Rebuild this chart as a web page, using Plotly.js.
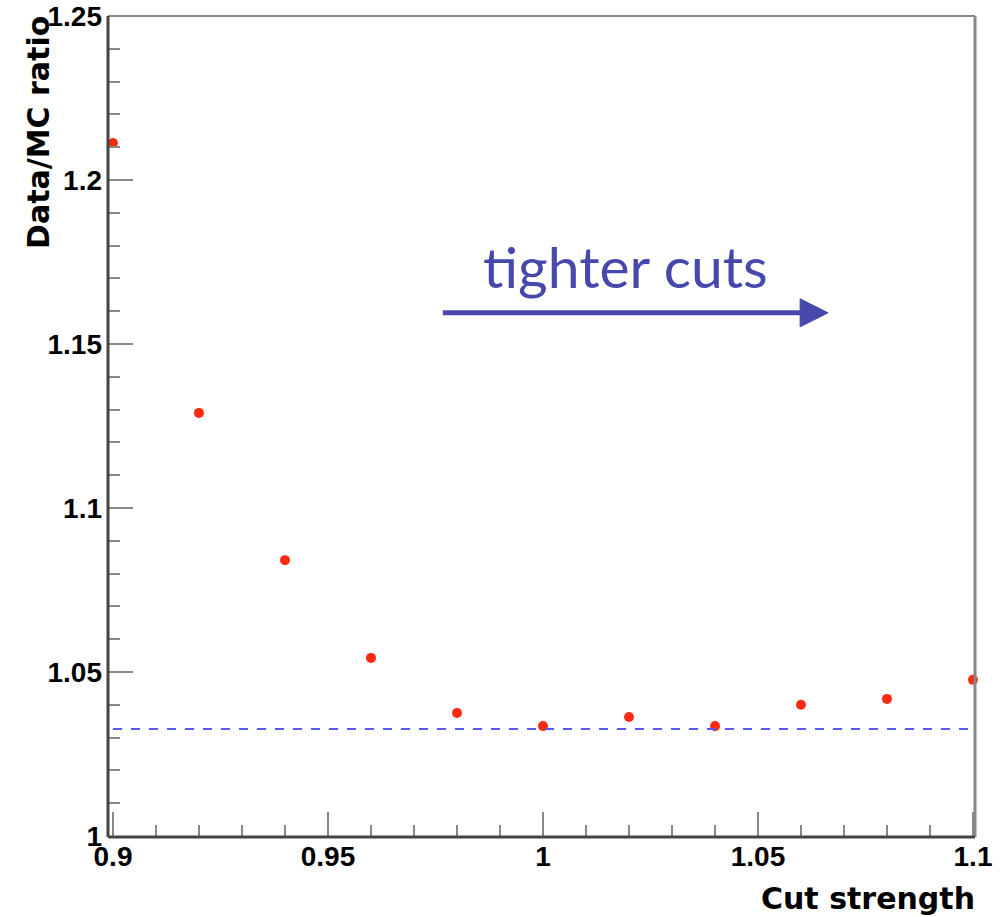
<!DOCTYPE html>
<html><head><meta charset="utf-8">
<script src="https://cdn.plot.ly/plotly-3.0.1.min.js"></script>
<style>body{margin:0;background:#fff}#plot{width:1004px;height:917px}</style>
</head><body><div id="plot"></div>
<script>
const cutStrength = [0.90, 0.92, 0.94, 0.96, 0.98, 1.00, 1.02, 1.04, 1.06, 1.08, 1.10];
const ratio = [1.2113, 1.1290, 1.0841, 1.0543, 1.0375, 1.0335, 1.0363, 1.0335, 1.0400, 1.0418, 1.0476];
const referenceLevel = 1.0326;
const xTickVals = [0.9, 0.95, 1.0, 1.05, 1.1];
const xTickText = ['0.9', '0.95', '1', '1.05', '1.1'];
const yTickVals = [1.0, 1.05, 1.1, 1.15, 1.2, 1.25];
const yTickText = ['1', '1.05', '1.1', '1.15', '1.2', '1.25'];

const trace = {
  x: cutStrength, y: ratio, type: 'scatter', mode: 'markers',
  marker: {color: '#ff2a12', size: 10}, hoverinfo: 'x+y', cliponaxis: false
};
const tickFont = {family: 'Liberation Sans, Arial, sans-serif', size: 28, color: '#000', weight: 'bold'};
const titleFont = {family: 'DejaVu Sans, sans-serif', size: 30, color: '#000', weight: 'bold'};
const xr = [0.9 - 5/4300, 1.1 + 2/4300];
const yr = [1.0 - 1/3280, 1.25];
const arrowColor = '#4649ab';
const layout = {
  width: 1004, height: 917,
  margin: {l: 108, r: 29, t: 16, b: 80},
  paper_bgcolor: '#fff', plot_bgcolor: '#fff',
  showlegend: false,
  xaxis: {
    range: xr, showgrid: false, zeroline: false, showline: false,
    tickmode: 'array', tickvals: xTickVals, ticktext: xTickText,
    ticks: 'inside', ticklen: 25, tickwidth: 2, tickcolor: '#888',
    tickfont: tickFont, ticklabelstandoff: 0,
    minor: {dtick: 0.01, tick0: 0.9, ticks: 'inside', ticklen: 12, tickwidth: 2, tickcolor: '#888', showgrid: false}
  },
  yaxis: {
    range: yr, showgrid: false, zeroline: false, showline: false,
    tickmode: 'array', tickvals: yTickVals, ticktext: yTickText,
    ticks: 'inside', ticklen: 25, tickwidth: 2, tickcolor: '#888',
    tickfont: tickFont, ticklabelstandoff: 5,
    minor: {dtick: 0.01, tick0: 1.0, ticks: 'inside', ticklen: 12, tickwidth: 2, tickcolor: '#888', showgrid: false}
  },
  shapes: [
    {type: 'line', xref: 'x', yref: 'y', x0: 0.9, x1: 1.1, y0: referenceLevel, y1: referenceLevel,
     line: {color: '#5a5af0', width: 2, dash: 'dash'}},
    {type: 'line', xref: 'paper', yref: 'paper', x0: 0, x1: 1, y0: 1, y1: 1, line: {color: '#888', width: 2}},
    {type: 'line', xref: 'paper', yref: 'paper', x0: 1, x1: 1, y0: 0, y1: 1, line: {color: '#888', width: 3}},
    {type: 'line', xref: 'paper', yref: 'paper', x0: 0, x1: 0, y0: 0, y1: 1, line: {color: '#444', width: 3}},
    {type: 'line', xref: 'paper', yref: 'paper', x0: 0, x1: 1, y0: 0, y1: 0, line: {color: '#444', width: 3}},
    {type: 'line', xref: 'x', yref: 'y', x0: 0.9767, x1: 1.0600, y0: 1.1595, y1: 1.1595,
     line: {color: arrowColor, width: 5}},
    {type: 'path', xref: 'x', yref: 'y',
     path: 'M 1.0598 1.16377 L 1.0663 1.1595 L 1.0598 1.15523 Z',
     fillcolor: arrowColor, line: {color: arrowColor, width: 1}}
  ],
  annotations: [
    {text: 'tighter cuts', xref: 'x', yref: 'y', x: 1.0193, y: 1.1738, xanchor: 'center', yanchor: 'middle',
     showarrow: false, font: {family: 'Lato, Open Sans, sans-serif', size: 57, color: arrowColor}},
    {text: 'Cut strength', xref: 'paper', yref: 'paper', x: 1, xshift: 2, y: 0, yshift: -42, xanchor: 'right', yanchor: 'top',
     showarrow: false, font: titleFont},
    {text: 'Data/MC ratio', xref: 'paper', yref: 'paper', x: 0, xshift: -89, y: 1, yshift: 2, xanchor: 'left', yanchor: 'top',
     textangle: -90, showarrow: false, font: titleFont}
  ]
};
Plotly.newPlot('plot', [trace], layout, {displayModeBar: false, staticPlot: true});
</script></body></html>
